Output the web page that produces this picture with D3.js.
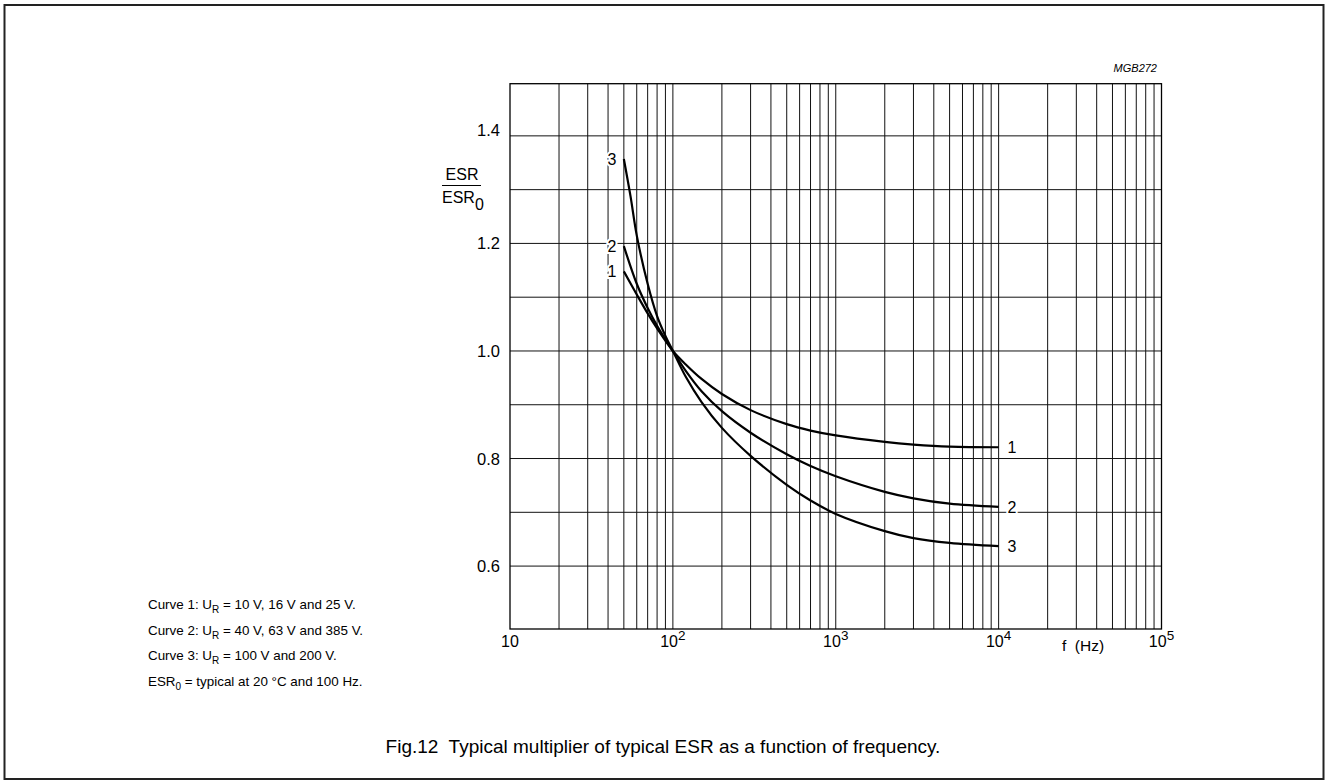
<!DOCTYPE html>
<html>
<head>
<meta charset="utf-8">
<script src="https://cdn.jsdelivr.net/npm/d3@7"></script>
<style>
  html, body { margin: 0; padding: 0; background: #fff; }
  svg { display: block; font-family: "Liberation Sans", Arial, sans-serif; }
</style>
</head>
<body>
<svg id="chart" width="1326" height="784"></svg>
<script>
// ---- data ----
const curve1F = [50, 60, 70, 80, 100, 120, 150, 200, 300, 500, 700, 1000, 2000, 3000, 5000, 10000];
const curve1V = [1.148, 1.105, 1.07, 1.042, 1.0, 0.975, 0.948, 0.92, 0.89, 0.864, 0.852, 0.843, 0.831, 0.826, 0.822, 0.821];
const curve2F = [50, 60, 70, 80, 100, 120, 150, 200, 300, 500, 700, 1000, 2000, 3000, 5000, 10000];
const curve2V = [1.195, 1.125, 1.08, 1.047, 1.0, 0.963, 0.925, 0.888, 0.848, 0.808, 0.786, 0.767, 0.738, 0.726, 0.716, 0.71];
const curve3F = [50, 55, 60, 70, 80, 90, 100, 120, 150, 200, 300, 500, 700, 1000, 2000, 3000, 5000, 10000];
const curve3V = [1.357, 1.287, 1.215, 1.125, 1.065, 1.028, 1.0, 0.952, 0.905, 0.857, 0.805, 0.751, 0.722, 0.697, 0.665, 0.652, 0.643, 0.637];
const curveNames = ["1", "2", "3"];
const yTickValues = [0.6, 0.8, 1.0, 1.2, 1.4];
const yGridValues = [0.6, 0.7, 0.8, 0.9, 1.0, 1.1, 1.2, 1.3, 1.4];
const xDecades = [10, 100, 1000, 10000, 100000];
const xTickExponents = ["", "2", "3", "4", "5"];
const xDomain = [10, 100000];
const yDomain = [0.483, 1.497];
const legendLines = [
  ["Curve 1: U", "R", " = 10 V, 16 V and 25 V."],
  ["Curve 2: U", "R", " = 40 V, 63 V and 385 V."],
  ["Curve 3: U", "R", " = 100 V and 200 V."],
  ["ESR", "0", " = typical at 20 \u00B0C and 100 Hz."]
];
const captionText = "Fig.12  Typical multiplier of typical ESR as a function of frequency.";
const codeText = "MGB272";

// ---- layout ----
const svg = d3.select("#chart");
const L = 510, R = 1161.5, T = 83.7, B = 629;
const x = d3.scaleLog().domain(xDomain).range([L, R]);
const y = d3.scaleLinear().domain(yDomain).range([B, T]);

// outer frame
svg.append("rect").attr("x", 4.5).attr("y", 5).attr("width", 1319).attr("height", 774)
  .attr("fill", "none").attr("stroke", "#222").attr("stroke-width", 2);

// vertical grid (log minors)
const xGrid = [];
for (let d = 10; d < 100000; d *= 10) {
  for (let m = 1; m <= 9; m++) { const v = d * m; if (v > 10) xGrid.push(v); }
}
const g = svg.append("g");
g.selectAll("line.vx").data(xGrid).join("line").attr("class", "vx")
  .attr("x1", d => x(d)).attr("x2", d => x(d)).attr("y1", T).attr("y2", B)
  .attr("stroke", "#111").attr("stroke-width", 1);
g.selectAll("line.hy").data(yGridValues).join("line").attr("class", "hy")
  .attr("x1", L).attr("x2", R).attr("y1", d => y(d)).attr("y2", d => y(d))
  .attr("stroke", "#111").attr("stroke-width", 1);
// plot frame
g.append("rect").attr("x", L).attr("y", T).attr("width", R - L).attr("height", B - T)
  .attr("fill", "none").attr("stroke", "#000").attr("stroke-width", 1.3);

// y tick labels
svg.selectAll("text.yt").data(yTickValues).join("text").attr("class", "yt")
  .attr("x", 500).attr("y", (d, i) => y(d) + 6 - (i === yTickValues.length - 1 ? 6 : 0))
  .attr("text-anchor", "end")
  .attr("font-size", 16.5).attr("fill", "#000").text(d => d3.format(".1f")(d));

// y axis label (fraction)
svg.append("text").attr("x", 462).attr("y", 180).attr("text-anchor", "middle")
  .attr("font-size", 16).text("ESR");
svg.append("line").attr("x1", 442).attr("x2", 481).attr("y1", 185.5).attr("y2", 185.5)
  .attr("stroke", "#000").attr("stroke-width", 1);
const yl2 = svg.append("text").attr("x", 442).attr("y", 203).attr("font-size", 16);
yl2.append("tspan").text("ESR");
yl2.append("tspan").attr("dy", 7).attr("font-size", 16).text("0");

// x tick labels
xDecades.forEach((v, i) => {
  const t = svg.append("text").attr("x", x(v)).attr("y", 647).attr("text-anchor", "middle")
    .attr("font-size", 16);
  if (xTickExponents[i] === "") { t.text("10"); }
  else {
    t.append("tspan").text("10");
    t.append("tspan").attr("dy", -7).attr("font-size", 13.5).text(xTickExponents[i]);
  }
});
svg.append("text").attr("x", 1083).attr("y", 651).attr("text-anchor", "middle")
  .attr("font-size", 15.5).attr("xml:space", "preserve").text("f  (Hz)");

// code label
svg.append("text").attr("x", 1157).attr("y", 72).attr("text-anchor", "end")
  .attr("font-size", 11).attr("font-style", "italic").text(codeText);

// curves
const series = [
  { f: curve1F, v: curve1V },
  { f: curve2F, v: curve2V },
  { f: curve3F, v: curve3V }
];
const line = d3.line().x(d => x(d[0])).y(d => y(d[1])).curve(d3.curveCatmullRom.alpha(0.5));
series.forEach(s => {
  const pts = s.f.map((f, i) => [f, s.v[i]]);
  svg.append("path").attr("d", line(pts)).attr("fill", "none")
    .attr("stroke", "#000").attr("stroke-width", 2.2);
});

// curve labels (left and right)
series.forEach((s, i) => {
  const v0 = s.v[0], vN = s.v[s.v.length - 1];
  svg.append("text").attr("x", 612).attr("y", y(v0) + 6).attr("text-anchor", "middle")
    .attr("font-size", 16).attr("stroke", "#fff").attr("stroke-width", 4)
    .attr("paint-order", "stroke").text(curveNames[i]);
  svg.append("text").attr("x", 1012).attr("y", y(vN) + 6).attr("text-anchor", "middle")
    .attr("font-size", 16).attr("stroke", "#fff").attr("stroke-width", 4)
    .attr("paint-order", "stroke").text(curveNames[i]);
});

// legend notes
legendLines.forEach((ln, i) => {
  const t = svg.append("text").attr("x", 148).attr("y", 609 + i * 25.7).attr("font-size", 13.4);
  t.append("tspan").text(ln[0]);
  t.append("tspan").attr("dy", 4).attr("font-size", 10).text(ln[1]);
  t.append("tspan").attr("dy", -4).text(ln[2]);
});

// caption
svg.append("text").attr("x", 663).attr("y", 753).attr("text-anchor", "middle")
  .attr("font-size", 19).attr("xml:space", "preserve").text(captionText);
</script>
</body>
</html>
